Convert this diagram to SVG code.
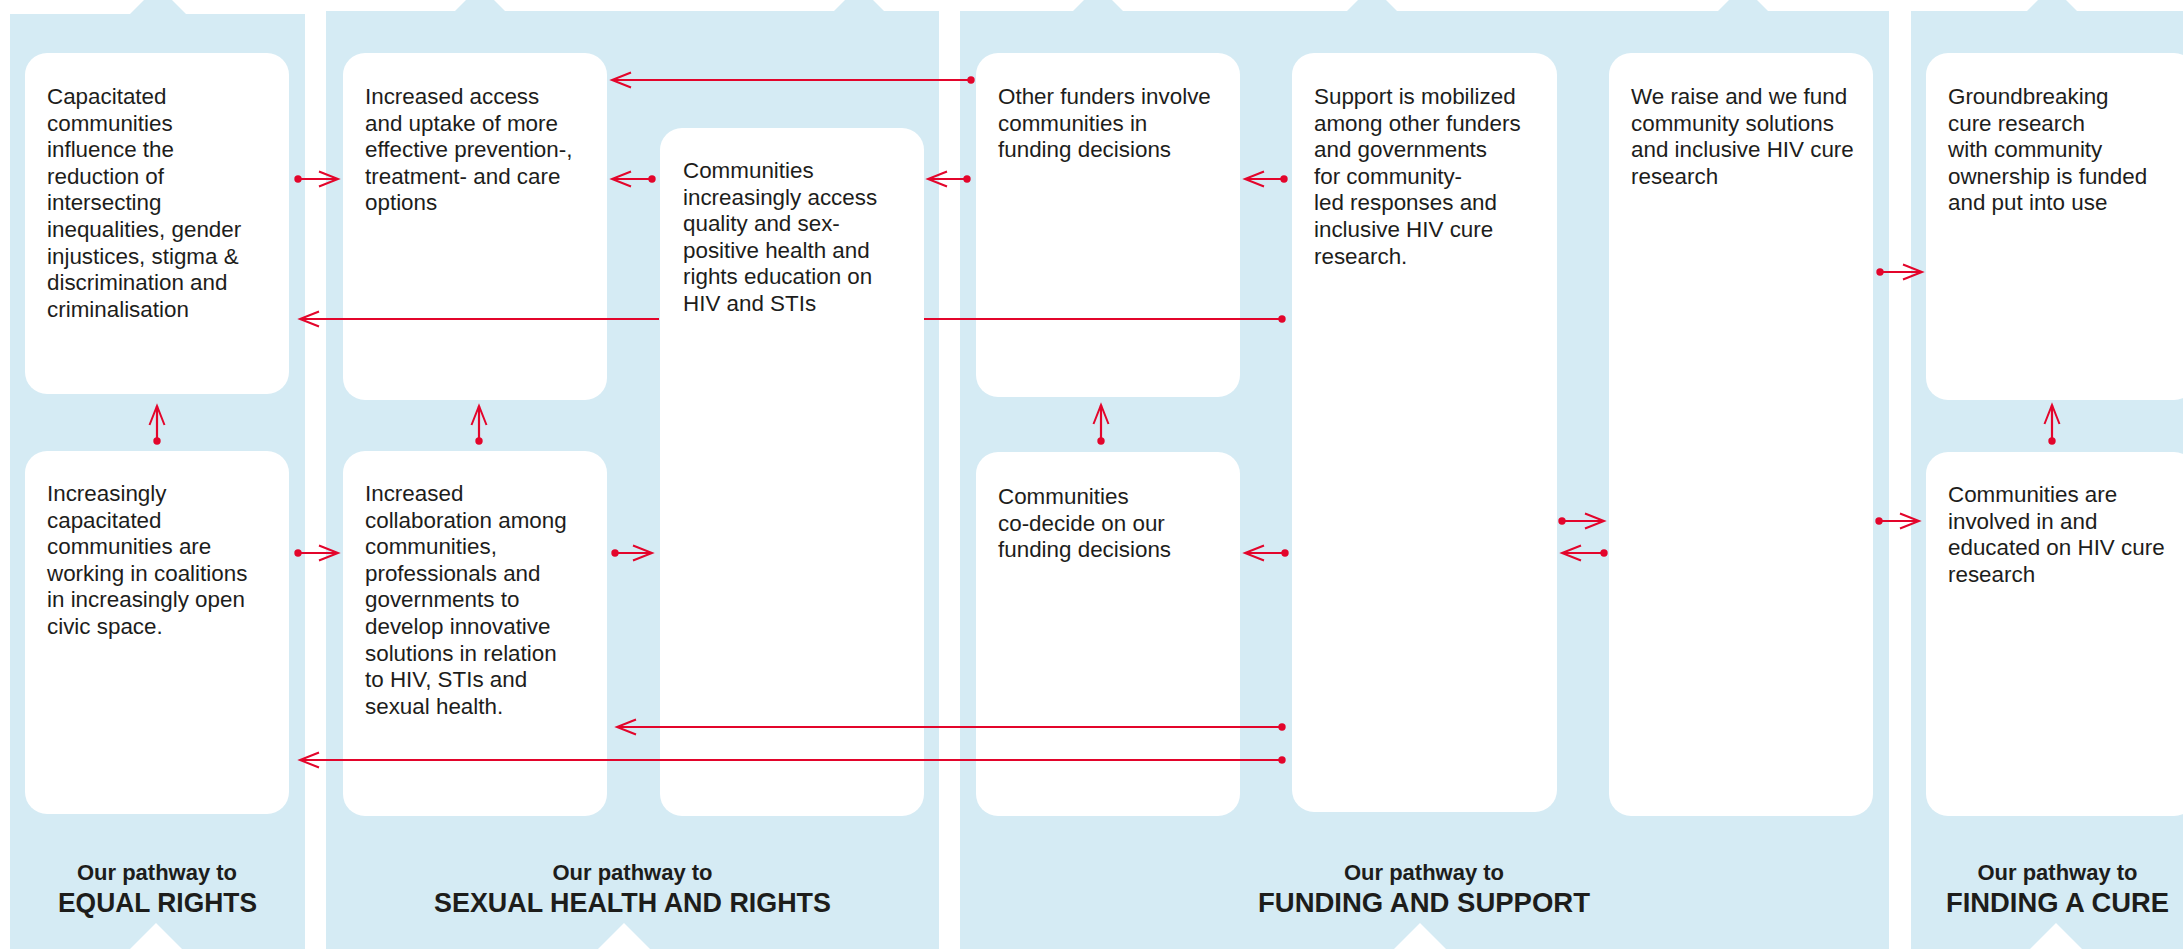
<svg xmlns="http://www.w3.org/2000/svg" width="2183" height="949" viewBox="0 0 2183 949">
<defs>
<style>
.panel{fill:#d5ebf4}
.box{fill:#ffffff}
.notch{fill:#ffffff}
.t{font-family:"Liberation Sans",Arial,sans-serif;font-size:22.4px;fill:#1d1d1b}
.sub{font-family:"Liberation Sans",Arial,sans-serif;font-size:22px;font-weight:bold;fill:#1d1d1b;text-anchor:middle}
.ttl{font-family:"Liberation Sans",Arial,sans-serif;font-size:28px;font-weight:bold;fill:#1d1d1b;text-anchor:middle}
.c{fill:none;stroke:#e3052b;stroke-width:2.2}
</style>
<marker id="arr" markerUnits="userSpaceOnUse" markerWidth="26" markerHeight="22" viewBox="-23 -11 26 22" refX="0" refY="0" orient="auto">
<path d="M-19,-7.5 L0,0 L-19,7.5" fill="none" stroke="#e3052b" stroke-width="2"/>
</marker>
<marker id="dot" markerUnits="userSpaceOnUse" markerWidth="10" markerHeight="10" viewBox="-5 -5 10 10" refX="0" refY="0">
<circle r="3.7" fill="#e3052b"/>
</marker>
</defs>
<rect x="0" y="0" width="2183" height="949" fill="#ffffff"/>
<g id="panels">
<rect class="panel" x="10" y="14" width="295" height="940"/>
<rect class="panel" x="326" y="11" width="613" height="940"/>
<rect class="panel" x="960" y="11" width="929" height="940"/>
<rect class="panel" x="1911" y="11" width="290" height="940"/>
<polygon class="panel" points="158,-14 187,15 129,15"/>
<polygon class="panel" points="480,-14 506,12 454,12"/>
<polygon class="panel" points="859,-14 885,12 833,12"/>
<polygon class="panel" points="1098,-14 1124,12 1072,12"/>
<polygon class="panel" points="1372,-14 1398,12 1346,12"/>
<polygon class="panel" points="1743,-14 1769,12 1717,12"/>
<polygon class="panel" points="2052,-14 2078,12 2026,12"/>
<polygon class="notch" points="156,923 185,952 127,952"/>
<polygon class="notch" points="624,923 653,952 595,952"/>
<polygon class="notch" points="1420,923 1449,952 1391,952"/>
<polygon class="notch" points="2056,923 2085,952 2027,952"/>
</g>
<g id="node-capacitated">
<rect class="box" x="25" y="53" width="264" height="341" rx="22"/>
<text class="t" x="47" y="104">
<tspan x="47" dy="0">Capacitated</tspan><tspan x="47" dy="26.6">communities</tspan><tspan x="47" dy="26.6">influence the</tspan><tspan x="47" dy="26.6">reduction of</tspan><tspan x="47" dy="26.6">intersecting</tspan><tspan x="47" dy="26.6">inequalities, gender</tspan><tspan x="47" dy="26.6">injustices, stigma &amp;</tspan><tspan x="47" dy="26.6">discrimination and</tspan><tspan x="47" dy="26.6">criminalisation</tspan>
</text>
</g>
<g id="node-increased-access">
<rect class="box" x="343" y="53" width="264" height="347" rx="22"/>
<text class="t" x="365" y="104">
<tspan x="365" dy="0">Increased access</tspan><tspan x="365" dy="26.6">and uptake of more</tspan><tspan x="365" dy="26.6">effective prevention-,</tspan><tspan x="365" dy="26.6">treatment- and care</tspan><tspan x="365" dy="26.6">options</tspan>
</text>
</g>
<g id="node-communities-education">
<rect class="box" x="660" y="128" width="264" height="688" rx="22"/>
<text class="t" x="683" y="178">
<tspan x="683" dy="0">Communities</tspan><tspan x="683" dy="26.6">increasingly access</tspan><tspan x="683" dy="26.6">quality and sex-</tspan><tspan x="683" dy="26.6">positive health and</tspan><tspan x="683" dy="26.6">rights education on</tspan><tspan x="683" dy="26.6">HIV and STIs</tspan>
</text>
</g>
<g id="node-other-funders">
<rect class="box" x="976" y="53" width="264" height="344" rx="22"/>
<text class="t" x="998" y="104">
<tspan x="998" dy="0">Other funders involve</tspan><tspan x="998" dy="26.6">communities in</tspan><tspan x="998" dy="26.6">funding decisions</tspan>
</text>
</g>
<g id="node-support-mobilized">
<rect class="box" x="1292" y="53" width="265" height="759" rx="22"/>
<text class="t" x="1314" y="104">
<tspan x="1314" dy="0">Support is mobilized</tspan><tspan x="1314" dy="26.6">among other funders</tspan><tspan x="1314" dy="26.6">and governments</tspan><tspan x="1314" dy="26.6">for community-</tspan><tspan x="1314" dy="26.6">led responses and</tspan><tspan x="1314" dy="26.6">inclusive HIV cure</tspan><tspan x="1314" dy="26.6">research.</tspan>
</text>
</g>
<g id="node-we-raise">
<rect class="box" x="1609" y="53" width="264" height="763" rx="22"/>
<text class="t" x="1631" y="104">
<tspan x="1631" dy="0">We raise and we fund</tspan><tspan x="1631" dy="26.6">community solutions</tspan><tspan x="1631" dy="26.6">and inclusive HIV cure</tspan><tspan x="1631" dy="26.6">research</tspan>
</text>
</g>
<g id="node-groundbreaking">
<rect class="box" x="1926" y="53" width="270" height="347" rx="22"/>
<text class="t" x="1948" y="104">
<tspan x="1948" dy="0">Groundbreaking</tspan><tspan x="1948" dy="26.6">cure research</tspan><tspan x="1948" dy="26.6">with community</tspan><tspan x="1948" dy="26.6">ownership is funded</tspan><tspan x="1948" dy="26.6">and put into use</tspan>
</text>
</g>
<g id="node-increasingly-capacitated">
<rect class="box" x="25" y="451" width="264" height="363" rx="22"/>
<text class="t" x="47" y="501">
<tspan x="47" dy="0">Increasingly</tspan><tspan x="47" dy="26.6">capacitated</tspan><tspan x="47" dy="26.6">communities are</tspan><tspan x="47" dy="26.6">working in coalitions</tspan><tspan x="47" dy="26.6">in increasingly open</tspan><tspan x="47" dy="26.6">civic space.</tspan>
</text>
</g>
<g id="node-increased-collaboration">
<rect class="box" x="343" y="451" width="264" height="365" rx="22"/>
<text class="t" x="365" y="501">
<tspan x="365" dy="0">Increased</tspan><tspan x="365" dy="26.6">collaboration among</tspan><tspan x="365" dy="26.6">communities,</tspan><tspan x="365" dy="26.6">professionals and</tspan><tspan x="365" dy="26.6">governments to</tspan><tspan x="365" dy="26.6">develop innovative</tspan><tspan x="365" dy="26.6">solutions in relation</tspan><tspan x="365" dy="26.6">to HIV, STIs and</tspan><tspan x="365" dy="26.6">sexual health.</tspan>
</text>
</g>
<g id="node-co-decide">
<rect class="box" x="976" y="452" width="264" height="364" rx="22"/>
<text class="t" x="998" y="504">
<tspan x="998" dy="0">Communities</tspan><tspan x="998" dy="26.6">co-decide on our</tspan><tspan x="998" dy="26.6">funding decisions</tspan>
</text>
</g>
<g id="node-cure-involved">
<rect class="box" x="1926" y="452" width="270" height="364" rx="22"/>
<text class="t" x="1948" y="502">
<tspan x="1948" dy="0">Communities are</tspan><tspan x="1948" dy="26.6">involved in and</tspan><tspan x="1948" dy="26.6">educated on HIV cure</tspan><tspan x="1948" dy="26.6">research</tspan>
</text>
</g>
<g id="titles">
<text class="sub" x="157" y="880">Our pathway to</text>
<text class="ttl" x="157.5" y="912" textLength="199" lengthAdjust="spacingAndGlyphs">EQUAL RIGHTS</text>
<text class="sub" x="632.5" y="880">Our pathway to</text>
<text class="ttl" x="632.5" y="912" textLength="397" lengthAdjust="spacingAndGlyphs">SEXUAL HEALTH AND RIGHTS</text>
<text class="sub" x="1424" y="880">Our pathway to</text>
<text class="ttl" x="1424" y="912" textLength="332" lengthAdjust="spacingAndGlyphs">FUNDING AND SUPPORT</text>
<text class="sub" x="2057.5" y="880">Our pathway to</text>
<text class="ttl" x="2057.5" y="912" textLength="223" lengthAdjust="spacingAndGlyphs">FINDING A CURE</text>
</g>
<g id="connectors">
<line class="c" x1="1282" y1="319" x2="924" y2="319" marker-start="url(#dot)"/>
<line class="c" x1="659" y1="319" x2="300" y2="319" marker-end="url(#arr)"/>
<line class="c" x1="971" y1="80" x2="612" y2="80" marker-start="url(#dot)" marker-end="url(#arr)"/>
<line class="c" x1="298" y1="179" x2="338" y2="179" marker-start="url(#dot)" marker-end="url(#arr)"/>
<line class="c" x1="652" y1="179" x2="612" y2="179" marker-start="url(#dot)" marker-end="url(#arr)"/>
<line class="c" x1="967" y1="179" x2="928" y2="179" marker-start="url(#dot)" marker-end="url(#arr)"/>
<line class="c" x1="1284" y1="179" x2="1245" y2="179" marker-start="url(#dot)" marker-end="url(#arr)"/>
<line class="c" x1="1880" y1="272" x2="1922" y2="272" marker-start="url(#dot)" marker-end="url(#arr)"/>
<line class="c" x1="157" y1="441" x2="157" y2="406" marker-start="url(#dot)" marker-end="url(#arr)"/>
<line class="c" x1="479" y1="441" x2="479" y2="406" marker-start="url(#dot)" marker-end="url(#arr)"/>
<line class="c" x1="1101" y1="441" x2="1101" y2="405" marker-start="url(#dot)" marker-end="url(#arr)"/>
<line class="c" x1="2052" y1="441" x2="2052" y2="405" marker-start="url(#dot)" marker-end="url(#arr)"/>
<line class="c" x1="298" y1="553" x2="338" y2="553" marker-start="url(#dot)" marker-end="url(#arr)"/>
<line class="c" x1="615" y1="553" x2="652" y2="553" marker-start="url(#dot)" marker-end="url(#arr)"/>
<line class="c" x1="1285" y1="553" x2="1245" y2="553" marker-start="url(#dot)" marker-end="url(#arr)"/>
<line class="c" x1="1562" y1="521" x2="1604" y2="521" marker-start="url(#dot)" marker-end="url(#arr)"/>
<line class="c" x1="1604" y1="553" x2="1562" y2="553" marker-start="url(#dot)" marker-end="url(#arr)"/>
<line class="c" x1="1879" y1="521" x2="1919" y2="521" marker-start="url(#dot)" marker-end="url(#arr)"/>
<line class="c" x1="1282" y1="727" x2="617" y2="727" marker-start="url(#dot)" marker-end="url(#arr)"/>
<line class="c" x1="1282" y1="760" x2="300" y2="760" marker-start="url(#dot)" marker-end="url(#arr)"/>
</g>
</svg>
